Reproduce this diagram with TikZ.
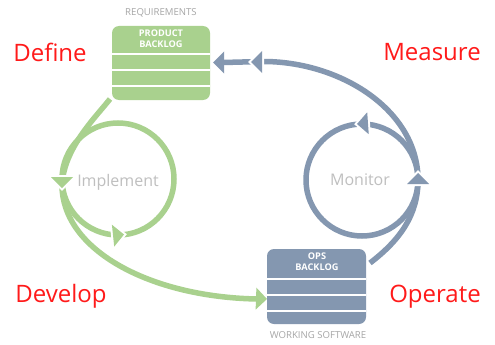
\documentclass[tikz,border=0pt]{standalone}
\usepackage{fontspec}
\setmainfont{Open Sans}
\usetikzlibrary{backgrounds}
\definecolor{gr}{HTML}{A9D18E}
\definecolor{bl}{HTML}{8497B0}
\definecolor{lg}{HTML}{BFBFBF}
\definecolor{cg}{HTML}{A6A6A6}
\definecolor{rd}{HTML}{FF1A1A}
\tikzset{
  tiphead/.pic={\path[pic actions] (0,0)--(-11,-11)--(-11,11)--cycle;},
  midhead/.pic={\draw[white,line width=4pt,line join=miter] (0,0)--(-11,-11)--(-11,11)--cycle;
                \path[pic actions] (0,0)--(-11,-11)--(-11,11)--cycle;},
}
\begin{document}
\begin{tikzpicture}[x=1pt,y=-1pt,
  box/.style={rounded corners=7pt, inner sep=0pt, draw=none},
  boxtext/.style={text=white, font=\bfseries\fontsize{9.2}{11}\selectfont, align=center, inner sep=0pt},
  phase/.style={text=rd, font=\fontsize{24}{28}\selectfont, inner sep=0pt, anchor=base},
  loopname/.style={text=lg, font=\fontsize{16}{18}\selectfont, inner sep=0pt},
  caption/.style={text=cg, font=\fontsize{9.6}{11}\selectfont, inner sep=0pt},
  sep/.style={white, line width=2.5pt},
  flow/.style={line width=5.5pt},
]
\useasboundingbox (0,0) rectangle (495,345);

% boxes
\node[box, fill=gr, minimum width=98pt, minimum height=74pt] (pb) at (161,63) {};
\draw[sep] (112,54) -- (210,54);
\draw[sep] (112,70) -- (210,70);
\draw[sep] (112,86) -- (210,86);
\node[boxtext] (pbt) at (161,39) {PRODUCT\\BACKLOG};
\node[caption] (req) at (161,13) {REQUIREMENTS};

\node[box, fill=bl, minimum width=99pt, minimum height=75pt] (ob) at (316.5,286.5) {};
\draw[sep] (267,279) -- (366,279);
\draw[sep] (267,295) -- (366,295);
\draw[sep] (267,311) -- (366,311);
\node[boxtext] (obt) at (317,261.5) {OPS\\BACKLOG};
\node[caption] (ws) at (318,335) {WORKING SOFTWARE};

% labels
\node[phase] (def) at (50,62) {Define};
\node[phase] (mea) at (432,61) {Measure};
\node[phase] (dev) at (61,302) {Develop};
\node[phase] (ope) at (435,302) {Operate};
\node[loopname] (imp) at (118,182) {Implement};
\node[loopname] (mon) at (360,180) {Monitor};

\coordinate (gs) at (110,99);
\coordinate (ge) at (257,299);
\coordinate (bs) at (370,263);
\coordinate (be) at (223,62.5);

\begin{pgfonlayer}{background}
  \fill[white] (0,0) rectangle (495,345);
  \draw[flow, gr] (gs) .. controls (95,118) and (64,148) .. (62,185)
                       .. controls (62,250) and (150,297) .. (ge);
  \draw[flow, gr] (118,179) circle[radius=56];
  \draw[flow, bl] (bs) .. controls (400,240) and (418,215) .. (418,180)
                       .. controls (418,110) and (340,61) .. (262,61.5) -- (be);
  \draw[flow, bl] (362,180) circle[radius=56];
  % arrow heads
  \pic[fill=gr, rotate=-2] at (267,299) {tiphead};
  \pic[fill=gr, rotate=-90] at (62,188) {midhead};
  \pic[fill=gr, rotate=6] at (124,234.5) {midhead};
  \pic[fill=bl, rotate=90] at (418,173) {midhead};
  \pic[fill=bl, rotate=180] at (251,62) {midhead};
  \pic[fill=bl, rotate=180] at (213,62.5) {tiphead};
  \pic[fill=bl, rotate=184] at (357,124) {midhead};
\end{pgfonlayer}
\end{tikzpicture}
\end{document}
